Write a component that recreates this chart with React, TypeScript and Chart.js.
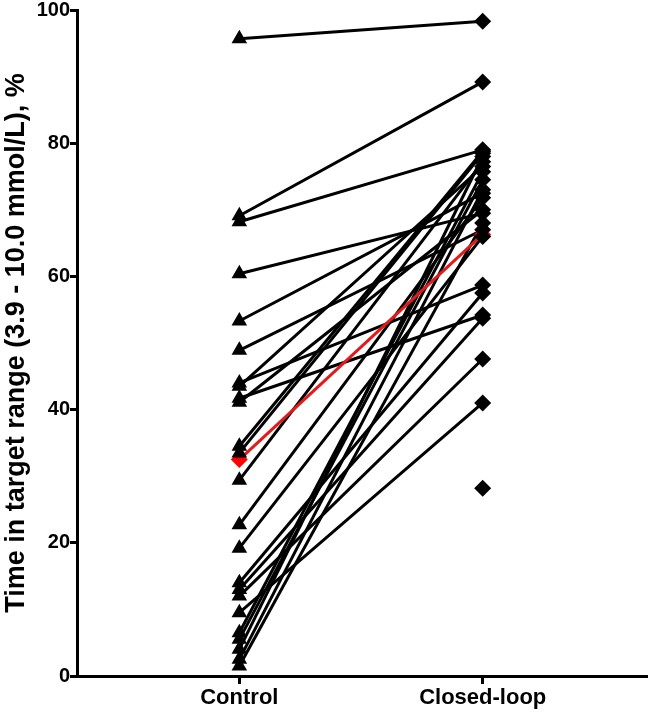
import React, { useEffect, useRef } from "react";
import { Chart, registerables } from "chart.js";

Chart.register(...registerables);

const categories = ["Control", "Closed-loop"];
const yTicks = [0, 20, 40, 60, 80, 100];
const yTitle = "Time in target range (3.9 - 10.0 mmol/L), %";

// paired values (participant i: control -> closed-loop)
const controlValues = [
  95.7, 69.1, 68.2, 60.4, 53.3, 48.9, 44.0, 43.5, 41.7, 41.1, 34.5, 33.5,
  29.4, 22.7, 19.2, 14.0, 13.0, 12.0, 9.5, 6.5, 5.5, 4.0, 2.5, 1.5,
];
const closedLoopValues = [
  98.3, 89.2, 79.0, 69.5, 72.5, 67.0, 58.7, 76.5, 54.2, 70.0, 78.8, 78.5,
  77.2, 71.8, 66.0, 57.5, 53.7, 47.6, 41.0, 75.7, 74.5, 78.0, 73.0, 68.0,
];
const unpairedClosedLoop = [28.2];
const meanValues = [32.5, 66.3];

const FONT = "'Liberation Sans', Arial, Helvetica, sans-serif";

export default function App() {
  const ref = useRef<HTMLCanvasElement | null>(null);

  useEffect(() => {
    if (!ref.current) return;
    const pairDatasets = controlValues.map((c, i) => ({
      type: "line" as const,
      data: [
        { x: 0, y: c },
        { x: 1, y: closedLoopValues[i] },
      ],
      borderColor: "#000000",
      borderWidth: 3,
      pointRadius: 0,
      fill: false,
      clip: false as any,
    }));

    const datasets: any[] = [
      {
        type: "scatter",
        label: "control points",
        data: controlValues.map((v) => ({ x: 0, y: v })),
        pointStyle: "triangle",
        pointRadius: 9,
        backgroundColor: "#000000",
        borderColor: "#000000",
        borderWidth: 0,
        clip: false,
      },
      {
        type: "scatter",
        label: "closed-loop points",
        data: [...closedLoopValues, ...unpairedClosedLoop].map((v) => ({ x: 1, y: v })),
        pointStyle: "rectRot",
        pointRadius: 8.5,
        backgroundColor: "#000000",
        borderColor: "#000000",
        borderWidth: 0,
        clip: false,
      },
      {
        type: "line",
        label: "mean",
        data: [
          { x: 0, y: meanValues[0] },
          { x: 1, y: meanValues[1] },
        ],
        borderColor: "#e31a1c",
        borderWidth: 3,
        pointStyle: "rectRot",
        pointRadius: 8.5,
        pointBackgroundColor: "#ff0000",
        pointBorderWidth: 0,
        fill: false,
        clip: false,
      },
      ...pairDatasets,
    ];

    const chart = new Chart(ref.current, {
      type: "scatter",
      data: { datasets },
      options: {
        animation: false,
        responsive: false,
        devicePixelRatio: 1,
        layout: { autoPadding: false, padding: { left: 0, top: 10, right: 1, bottom: 0 } },
        plugins: {
          legend: { display: false },
          tooltip: { enabled: false },
        },
        scales: {
          x: {
            type: "linear",
            min: -0.667,
            max: 1.675,
            afterFit: (scale: any) => {
              scale.height = 40;
            },
            afterBuildTicks: (scale: any) => {
              scale.ticks = categories.map((_, i) => ({ value: i }));
            },
            ticks: {
              callback: (v: any) => categories[Number(v)] ?? "",
              color: "#000000",
              font: { family: FONT, size: 22, weight: "bold" },
              padding: 1,
              maxRotation: 0,
            },
            grid: {
              drawOnChartArea: false,
              drawTicks: true,
              tickLength: 8,
              color: "#000000",
              lineWidth: 3,
            },
            border: { display: true, color: "#000000", width: 3 },
          },
          y: {
            type: "linear",
            min: 0,
            max: 100,
            afterFit: (scale: any) => {
              scale.width = 77;
            },
            afterBuildTicks: (scale: any) => {
              scale.ticks = yTicks.map((v) => ({ value: v }));
            },
            ticks: {
              color: "#000000",
              font: { family: FONT, size: 20, weight: "bold", lineHeight: 1.0 },
              padding: 0,
            },
            grid: {
              drawOnChartArea: false,
              drawTicks: true,
              tickLength: 7,
              color: "#000000",
              lineWidth: 3,
            },
            border: { display: true, color: "#000000", width: 3 },
            title: {
              display: true,
              text: yTitle,
              color: "#000000",
              font: { family: FONT, size: 27, weight: "bold" },
              padding: { top: 0, bottom: 0 },
            },
          },
        },
      },
    });
    return () => chart.destroy();
  }, []);

  return (
    <div style={{ position: "absolute", left: 0, top: 0, width: 648, height: 716, background: "#fff" }}>
      <canvas ref={ref} width={648} height={716} style={{ display: "block", width: 648, height: 716 }} />
    </div>
  );
}
